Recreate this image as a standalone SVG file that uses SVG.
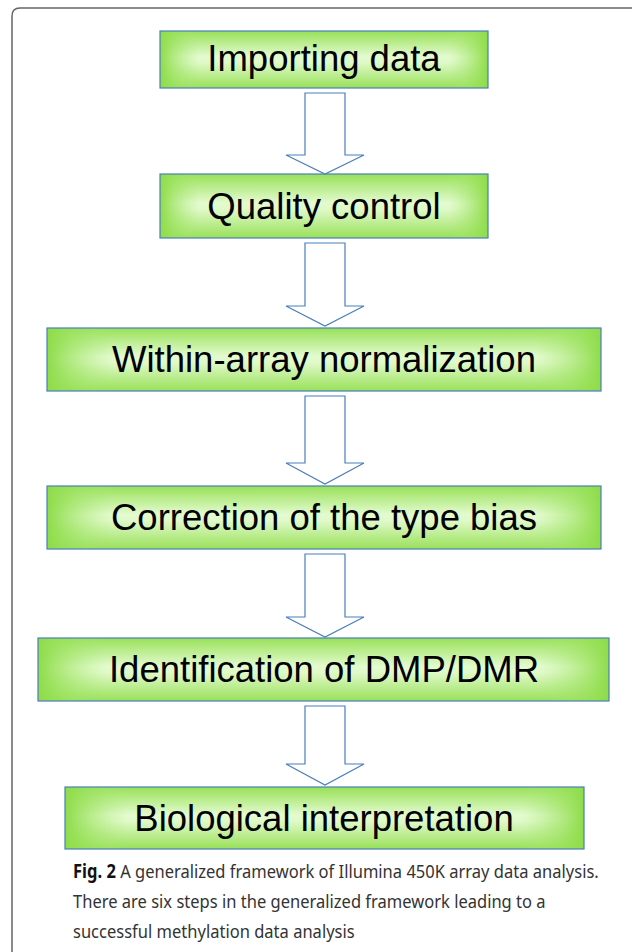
<svg xmlns="http://www.w3.org/2000/svg" width="635" height="952" viewBox="0 0 635 952">
<defs>
<linearGradient id="gv" x1="0" y1="0" x2="0" y2="1">
<stop offset="0" stop-color="#8edc48"/>
<stop offset="0.45" stop-color="#f2ffe6"/>
<stop offset="0.55" stop-color="#eefddf"/>
<stop offset="1" stop-color="#8edc48"/>
</linearGradient>
<linearGradient id="gh" x1="0" y1="0" x2="1" y2="0">
<stop offset="0" stop-color="#8edc48" stop-opacity="1"/>
<stop offset="0.12" stop-color="#b6ee88" stop-opacity="0.25"/>
<stop offset="0.88" stop-color="#b6ee88" stop-opacity="0.25"/>
<stop offset="1" stop-color="#8edc48" stop-opacity="1"/>
</linearGradient>
</defs>
<style>
.bx{stroke:#4a7ebb;stroke-width:1.2}
.bg{fill:url(#gv)}
.ov{fill:url(#gh)}
.lb{font-family:"Liberation Sans",Arial,sans-serif;font-size:36.5px;fill:#000;text-anchor:middle}
.ar{fill:#fff;stroke:#4a7ebb;stroke-width:1.2}
.cap{font-family:"Noto Sans","Open Sans",sans-serif;font-size:19px;fill:#333}
</style>
<path d="M12 952 V16 Q12 8 20 8 H632" fill="none" stroke="#666" stroke-width="1.5"/>

<g id="n1">
<rect class="bg" x="160" y="31" width="328" height="57"/>
<rect class="ov bx" x="160" y="31" width="328" height="57"/>
<text class="lb" x="324" y="71">Importing data</text>
</g>
<g id="n2">
<rect class="bg" x="160" y="174" width="328" height="64"/>
<rect class="ov bx" x="160" y="174" width="328" height="64"/>
<text class="lb" x="324" y="219">Quality control</text>
</g>
<g id="n3">
<rect class="bg" x="47" y="328" width="554" height="63"/>
<rect class="ov bx" x="47" y="328" width="554" height="63"/>
<text class="lb" x="324" y="372">Within-array normalization</text>
</g>
<g id="n4">
<rect class="bg" x="47" y="486" width="554" height="63"/>
<rect class="ov bx" x="47" y="486" width="554" height="63"/>
<text class="lb" x="324" y="530">Correction of the type bias</text>
</g>
<g id="n5">
<rect class="bg" x="38" y="638" width="571" height="63"/>
<rect class="ov bx" x="38" y="638" width="571" height="63"/>
<text class="lb" x="324" y="682">Identification of DMP/DMR</text>
</g>
<g id="n6">
<rect class="bg" x="65" y="787" width="519" height="62"/>
<rect class="ov bx" x="65" y="787" width="519" height="62"/>
<text class="lb" x="324" y="831">Biological interpretation</text>
</g>

<g id="connectors">
<path class="ar" d="M305 93 H345 V155 H364 L325 174 L286 155 H305 Z"/>
<path class="ar" d="M305 243 H345 V306 H364 L325 326 L286 306 H305 Z"/>
<path class="ar" d="M305 396 H345 V463 H364 L325 484 L286 463 H305 Z"/>
<path class="ar" d="M305 554 H345 V617 H364 L325 637 L286 617 H305 Z"/>
<path class="ar" d="M305 706 H345 V764 H364 L325 785 L286 764 H305 Z"/>
</g>

<g id="caption" transform="translate(73 0) scale(0.87 1)">
<text class="cap" x="0" y="878"><tspan font-weight="bold" fill="#111">Fig. 2</tspan> A generalized framework of Illumina 450K array data analysis.</text>
<text class="cap" x="0" y="908">There are six steps in the generalized framework leading to a</text>
<text class="cap" x="0" y="938">successful methylation data analysis</text>
</g>
</svg>
